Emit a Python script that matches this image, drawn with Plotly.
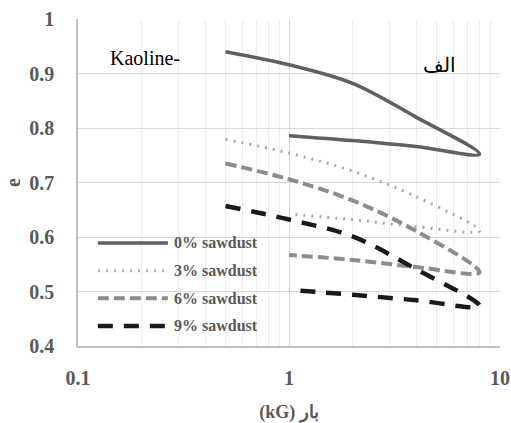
import plotly.graph_objects as go

# ---- data ----
pressure = [0.5, 1, 2, 4, 8, 4, 2, 1]          # kG (loading then unloading)
series_names = ["0% sawdust", "3% sawdust", "6% sawdust", "9% sawdust"]
e_0 = [0.940, 0.916, 0.882, 0.820, 0.752, 0.766, 0.777, 0.786]
e_3 = [0.779, 0.754, 0.721, 0.674, 0.611, 0.619, 0.632, 0.642]
e_6 = [0.735, 0.706, 0.667, 0.611, 0.535, 0.545, 0.558, 0.567]
e_9 = [0.657, 0.632, 0.601, 0.541, 0.473, 0.484, 0.494, 0.503]
x_tick_vals = [0.1, 1, 10]
x_tick_text = ["0.1", "1", "10"]
x_minor_vals = [0.2, 0.3, 0.4, 0.5, 0.6, 0.7, 0.8, 0.9, 2, 3, 4, 5, 6, 7, 8, 9]

# ---- styles ----
styles = [
    dict(color="#606060", width=3.5, dash="solid"),
    dict(color="#a8a8a8", width=3, dash="2px,6px"),
    dict(color="#8c8c8c", width=4, dash="11px,5px"),
    dict(color="#1a1a1a", width=4.5, dash="15px,11px"),
]
SERIF = "Liberation Serif, Times New Roman, DejaVu Serif, serif"
GRAY = "#595959"

fig = go.Figure()
for name, ys, st in zip(series_names, [e_0, e_3, e_6, e_9], styles):
    fig.add_trace(go.Scatter(
        x=pressure, y=ys, mode="lines", name=name, showlegend=False,
        line=dict(shape="spline", smoothing=1, **st),
        hoverinfo="skip",
    ))

# ---- custom legend (inside plot, lower-left) ----
shapes = [dict(type="rect", xref="paper", yref="paper",
               x0=0.014, x1=0.431, y0=0.018, y1=0.355,
               fillcolor="white", line=dict(width=0), layer="between")]
annotations = []
row_y0 = 0.315
row_step = 0.0845
for i, (name, st) in enumerate(zip(series_names, styles)):
    yy = row_y0 - i * row_step
    shapes.append(dict(type="line", xref="paper", yref="paper",
                       x0=0.047, x1=0.213, y0=yy, y1=yy,
                       line=dict(color=st["color"], width=st["width"], dash=st["dash"]),
                       layer="above"))
    annotations.append(dict(xref="paper", yref="paper", x=0.222, y=yy,
                            xanchor="left", yanchor="middle", showarrow=False,
                            text=name,
                            font=dict(family=SERIF, size=16, color=GRAY, weight="bold")))

annotations.append(dict(xref="paper", yref="paper", x=0.159, y=0.881,
                        xanchor="center", yanchor="middle", showarrow=False,
                        text="Kaoline-",
                        font=dict(family=SERIF, size=20, color="black", weight=400)))
annotations.append(dict(xref="paper", yref="paper", x=0.857, y=0.86,
                        xanchor="center", yanchor="middle", showarrow=False,
                        text="الف",
                        font=dict(family=SERIF, size=20, color="black")))

fig.update_layout(
    width=511, height=423,
    margin=dict(l=78, r=11, t=19, b=77),
    paper_bgcolor="white", plot_bgcolor="white",
    font=dict(family=SERIF),
    shapes=shapes, annotations=annotations,
    xaxis=dict(
        type="log", range=[-1, 1], automargin=False,
        tickmode="array", tickvals=x_tick_vals, ticktext=x_tick_text,
        showgrid=True, gridcolor="#d9d9d9", gridwidth=1,
        minor=dict(tickmode="array", tickvals=x_minor_vals, showgrid=True,
                   gridcolor="#ededed", gridwidth=1, ticks=""),
        showline=True, linecolor="#c0c0c0", linewidth=1.5,
        ticks="", ticklabelstandoff=13,
        tickfont=dict(family=SERIF, size=20, color=GRAY, weight="bold"),
        title=dict(text="(kG) بار", standoff=20,
                   font=dict(family=SERIF, size=18, color=GRAY, weight="bold")),
        zeroline=False,
    ),
    yaxis=dict(
        range=[0.4, 1.0], tick0=0.4, dtick=0.1, automargin=False,
        showgrid=True, gridcolor="#d9d9d9", gridwidth=1,
        showline=True, linecolor="#c0c0c0", linewidth=1.5,
        ticks="", ticklabelstandoff=18,
        tickfont=dict(family=SERIF, size=20, color=GRAY, weight="bold"),
        title=dict(text="e", standoff=3,
                   font=dict(family=SERIF, size=20, color=GRAY, weight="bold")),
        zeroline=False,
    ),
)

fig.write_html("out.html", config={"displayModeBar": False},
               post_script="document.body.style.margin='0';")
